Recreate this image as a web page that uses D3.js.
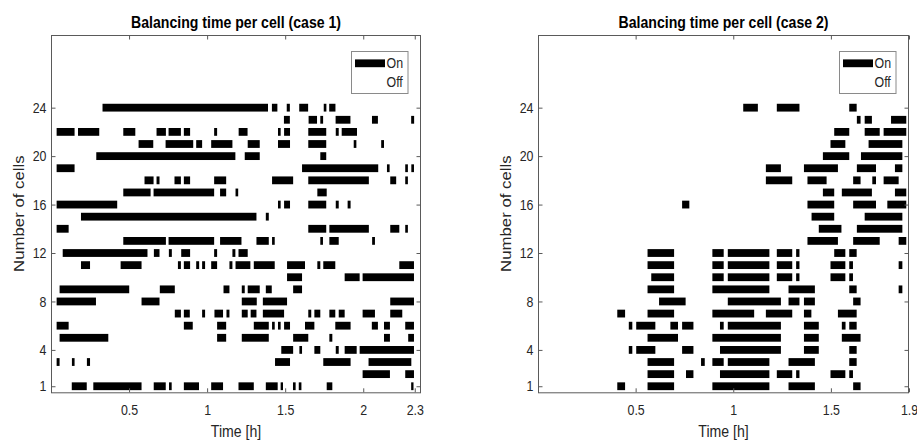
<!DOCTYPE html>
<html>
<head>
<meta charset="utf-8">
<script src="https://cdn.jsdelivr.net/npm/d3@7"></script>
<style>
  html, body { margin: 0; padding: 0; background: #fff; }
  svg { display: block; font-family: "Liberation Sans", Arial, Helvetica, sans-serif; }
</style>
</head>
<body>
<svg id="chart" width="917" height="442"></svg>
<script>
// Balancing "on" intervals [start, end] in hours; index 0 = cell 1 ... index 23 = cell 24
const case1OnIntervals = [
  [[0.133,0.229],[0.271,0.58],[0.658,0.735],[0.756,0.773],[0.851,0.948],[1.026,1.102],[1.201,1.299],[1.376,1.452],[1.471,1.486],[1.55,1.567],[1.587,1.604],[1.766,1.802],[2.307,2.322]],
  [[1.996,2.171],[2.269,2.325]],
  [[0.036,0.055],[0.134,0.151],[0.23,0.25],[1.435,1.531],[1.744,1.919],[2.034,2.308]],
  [[1.475,1.551],[1.591,1.608],[1.687,1.725],[1.824,1.843],[1.881,1.958],[1.977,2.325]],
  [[0.055,0.367],[1.064,1.122],[1.222,1.395],[1.551,1.648],[1.783,1.802],[2.133,2.171],[2.288,2.325]],
  [[0.036,0.113],[0.851,0.908],[1.064,1.122],[1.299,1.395],[1.416,1.433],[1.454,1.471],[1.493,1.531],[1.627,1.687],[1.821,1.919],[2.055,2.094],[2.133,2.171],[2.269,2.325]],
  [[0.793,0.832],[0.851,0.889],[0.968,0.987],[1.047,1.102],[1.124,1.143],[1.222,1.26],[1.279,1.316],[1.357,1.493],[1.648,1.667],[1.687,1.725],[1.783,1.821],[1.843,1.881],[1.996,2.075],[2.173,2.25]],
  [[0.036,0.288],[0.58,0.695],[1.222,1.318],[1.357,1.512],[2.173,2.325]],
  [[0.055,0.501],[0.697,0.793],[1.105,1.143],[1.222,1.241],[1.26,1.337],[1.376,1.414],[1.551,1.608]],
  [[1.512,1.608],[1.881,1.977],[1.996,2.325]],
  [[0.192,0.25],[0.446,0.58],[0.813,0.832],[0.851,0.891],[0.93,0.949],[0.968,0.987],[1.026,1.064],[1.143,1.162],[1.182,1.277],[1.299,1.433],[1.512,1.627],[1.706,1.725],[1.744,1.821],[2.231,2.325]],
  [[0.075,0.618],[0.659,0.695],[0.755,0.774],[0.834,0.891],[1.045,1.064],[1.162,1.181],[1.201,1.26]],
  [[0.463,0.736],[0.753,1.045],[1.083,1.22],[1.316,1.395],[1.416,1.433],[1.725,1.742],[1.783,1.843],[2.057,2.075]],
  [[0.036,0.113],[1.648,1.763],[1.783,2.036],[2.173,2.231],[2.269,2.286]],
  [[0.192,1.316],[1.376,1.395]],
  [[0.036,0.424],[1.454,1.471],[1.493,1.531],[1.648,1.763],[1.824,1.843],[1.9,1.919]],
  [[0.463,0.638],[0.657,1.045],[1.083,1.122],[1.182,1.199],[1.706,1.766]],
  [[0.599,0.657],[0.676,0.695],[0.791,0.832],[0.851,0.891],[1.045,1.122],[1.416,1.551],[1.648,2.036],[2.173,2.211],[2.269,2.286]],
  [[0.036,0.151],[1.608,2.096],[2.152,2.169],[2.269,2.286],[2.308,2.325]],
  [[0.29,1.181],[1.241,1.337],[1.725,1.763]],
  [[0.561,0.655],[0.734,0.911],[0.93,0.968],[1.026,1.162],[1.26,1.337],[1.454,1.531],[1.648,1.763],[1.939,1.956],[2.115,2.133]],
  [[0.036,0.151],[0.173,0.309],[0.463,0.54],[0.676,0.736],[0.753,0.832],[0.851,0.891],[1.045,1.064],[1.202,1.259],[1.454,1.471],[1.493,1.531],[1.648,1.763],[1.824,1.843],[1.862,1.96]],
  [[1.492,1.53],[1.65,1.704],[1.725,1.743],[1.823,1.918],[2.056,2.094],[2.307,2.326]],
  [[0.33,1.39],[1.415,1.45],[1.51,1.53],[1.59,1.647],[1.747,1.764],[1.782,1.822]]
];

const case2OnIntervals = [
  [[0.406,0.446],[0.561,0.697],[0.893,1.185],[1.283,1.418],[1.614,1.652]],
  [[0.561,0.697],[0.758,0.796],[0.932,1.185],[1.223,1.302],[1.322,1.339],[1.498,1.574],[1.594,1.613]],
  [[0.561,0.697],[0.835,0.854],[0.893,0.951],[0.972,1.185],[1.283,1.418],[1.594,1.632]],
  [[0.465,0.483],[0.503,0.601],[0.738,0.796],[0.932,1.244],[1.362,1.438],[1.594,1.632]],
  [[0.561,0.717],[0.893,1.244],[1.362,1.438],[1.556,1.652]],
  [[0.465,0.483],[0.503,0.601],[0.678,0.717],[0.738,0.796],[0.932,0.951],[0.972,1.244],[1.362,1.438],[1.556,1.575],[1.594,1.632]],
  [[0.406,0.446],[0.561,0.697],[0.893,1.107],[1.167,1.302],[1.362,1.4],[1.536,1.632]],
  [[0.62,0.756],[0.972,1.244],[1.283,1.339],[1.362,1.418],[1.614,1.652]],
  [[0.561,0.697],[0.893,1.185],[1.283,1.418],[1.594,1.632],[1.847,1.866]],
  [[0.58,0.697],[0.893,0.951],[0.972,1.185],[1.223,1.302],[1.322,1.339],[1.498,1.574],[1.594,1.613]],
  [[0.561,0.697],[0.893,0.951],[0.972,1.185],[1.223,1.302],[1.322,1.339],[1.498,1.574],[1.594,1.613],[1.847,1.866]],
  [[0.561,0.697],[0.893,0.951],[0.972,1.185],[1.223,1.302],[1.322,1.339],[1.517,1.574],[1.594,1.632]],
  [[1.38,1.536],[1.614,1.75],[1.847,1.886]],
  [[1.438,1.554],[1.633,1.866]],
  [[1.401,1.517],[1.673,1.866]],
  [[0.738,0.775],[1.38,1.517],[1.614,1.731],[1.789,1.886]],
  [[1.459,1.517],[1.556,1.71],[1.828,1.886]],
  [[1.167,1.302],[1.38,1.478],[1.614,1.652],[1.712,1.731],[1.77,1.847]],
  [[1.167,1.244],[1.362,1.536],[1.633,1.731],[1.828,1.866]],
  [[1.459,1.594],[1.654,1.866]],
  [[1.498,1.574],[1.693,1.866]],
  [[1.517,1.594],[1.673,1.75],[1.77,1.886]],
  [[1.633,1.652],[1.673,1.71],[1.808,1.886]],
  [[1.051,1.126],[1.223,1.339],[1.594,1.632]]
];

const yTickValues = [1, 4, 8, 12, 16, 20, 24];
const case1XTicks = [0.5, 1, 1.5, 2, 2.33];
const case1XTickLabels = ["0.5", "1", "1.5", "2", "2.3"];
const case2XTicks = [0.5, 1, 1.5, 1.9];
const case2XTickLabels = ["0.5", "1", "1.5", "1.9"];
const legendLabels = ["On", "Off"];
const titles = ["Balancing time per cell (case 1)", "Balancing time per cell (case 2)"];
const xLabel = "Time [h]";
const yLabel = "Number of cells";

// text is drawn slightly condensed horizontally
const SQ = 0.855;
const AXIS_COLOR = "#5a5a5a";
const TEXT_COLOR = "#262626";

const svg = d3.select("#chart");

function condense(sel) {
  sel.each(function () {
    const t = d3.select(this);
    const x = +t.attr("x") || 0;
    const y = +t.attr("y") || 0;
    t.attr("x", 0).attr("y", 0)
     .attr("transform", `translate(${x},${y}) scale(${SQ},1)`);
  });
}

function drawPanel(cfg) {
  const { x0, x1, y0, y1, xMax, intervals, xTicks, xTickLabels, title } = cfg;
  const x = d3.scaleLinear().domain([0, xMax]).range([x0, x1]);
  const y = d3.scaleLinear().domain([0.5, 30]).range([y1, y0]);
  const g = svg.append("g");

  // bars: one rect per "on" interval
  const rows = intervals.map((segs, i) => segs.map(s => ({ cell: i + 1, start: s[0], end: s[1] }))).flat();
  const barH = 7.8;
  g.append("g").selectAll("rect").data(rows).join("rect")
    .attr("x", d => x(d.start))
    .attr("width", d => Math.max(1, x(d.end) - x(d.start)))
    .attr("y", d => y(d.cell) - barH / 2)
    .attr("height", barH)
    .attr("fill", "#000");

  // box
  g.append("rect")
    .attr("x", x0 + 0.5).attr("y", y0 + 0.5)
    .attr("width", x1 - x0 - 1).attr("height", y1 - y0)
    .attr("fill", "none").attr("stroke", AXIS_COLOR).attr("stroke-width", 1);

  const tickLab = (ticks, labels) => (d) => labels[ticks.indexOf(d)];

  // bottom axis
  const bottom = g.append("g").attr("transform", `translate(0,${y1})`)
    .call(d3.axisBottom(x).tickValues(xTicks).tickFormat(tickLab(xTicks, xTickLabels))
      .tickSizeInner(-4).tickSizeOuter(0).tickPadding(12));
  // top ticks
  const top = g.append("g").attr("transform", `translate(0,${y0 + 0.5})`)
    .call(d3.axisTop(x).tickValues(xTicks).tickFormat("").tickSizeInner(-4).tickSizeOuter(0));
  // left axis
  const left = g.append("g").attr("transform", `translate(${x0 + 0.5},0)`)
    .call(d3.axisLeft(y).tickValues(yTickValues).tickFormat(d3.format("d"))
      .tickSizeInner(-4).tickSizeOuter(0).tickPadding(5));
  // right ticks
  const right = g.append("g").attr("transform", `translate(${x1 - 0.5},0)`)
    .call(d3.axisRight(y).tickValues(yTickValues).tickFormat("").tickSizeInner(-4).tickSizeOuter(0));

  [bottom, top, left, right].forEach(a => {
    a.select(".domain").remove();
    a.selectAll(".tick line").attr("stroke", AXIS_COLOR);
    a.selectAll(".tick text").attr("fill", TEXT_COLOR).style("font-size", "14.5px")
      .style("font-family", "'Liberation Sans', Arial, sans-serif");
  });
  bottom.selectAll(".tick text").call(condense);
  left.selectAll(".tick text").call(condense);

  // title
  g.append("text")
    .attr("transform", `translate(${(x0 + x1) / 2},28) scale(${SQ},1)`)
    .attr("text-anchor", "middle").attr("font-weight", "bold")
    .attr("font-size", 16.5).attr("fill", "#000").text(title);

  // axis labels
  g.append("text")
    .attr("transform", `translate(${(x0 + x1) / 2},437) scale(${SQ},1)`)
    .attr("text-anchor", "middle").attr("font-size", 16.5).attr("fill", TEXT_COLOR).text(xLabel);
  g.append("text")
    .attr("transform", `translate(${x0 - 27},${(y0 + y1) / 2}) scale(${SQ},1) rotate(-90)`)
    .attr("text-anchor", "middle").attr("font-size", 16.8).attr("fill", TEXT_COLOR).text(yLabel);

  // legend
  const lg = g.append("g");
  lg.append("rect")
    .attr("x", x1 - 69.5).attr("y", 51.5).attr("width", 56.5).attr("height", 42)
    .attr("fill", "#fff").attr("stroke", "#8a8a8a").attr("stroke-width", 1);
  lg.append("rect")
    .attr("x", x1 - 66).attr("y", 63.3 - barH / 2).attr("width", 30).attr("height", barH)
    .attr("fill", "#000");
  lg.selectAll("text.leg").data(legendLabels).join("text")
    .attr("class", "leg")
    .attr("transform", (d, i) => `translate(${x1 - 34.5},${63.3 + i * 18.7}) scale(${SQ},1)`)
    .attr("dy", "0.35em").attr("font-size", 14.5).attr("fill", TEXT_COLOR).text(d => d);
}

drawPanel({
  x0: 51, x1: 421, y0: 35, y1: 392.3, xMax: 2.37,
  intervals: case1OnIntervals, xTicks: case1XTicks, xTickLabels: case1XTickLabels, title: titles[0]
});
drawPanel({
  x0: 538, x1: 909, y0: 35, y1: 392.3, xMax: 1.9,
  intervals: case2OnIntervals, xTicks: case2XTicks, xTickLabels: case2XTickLabels, title: titles[1]
});
</script>
</body>
</html>
